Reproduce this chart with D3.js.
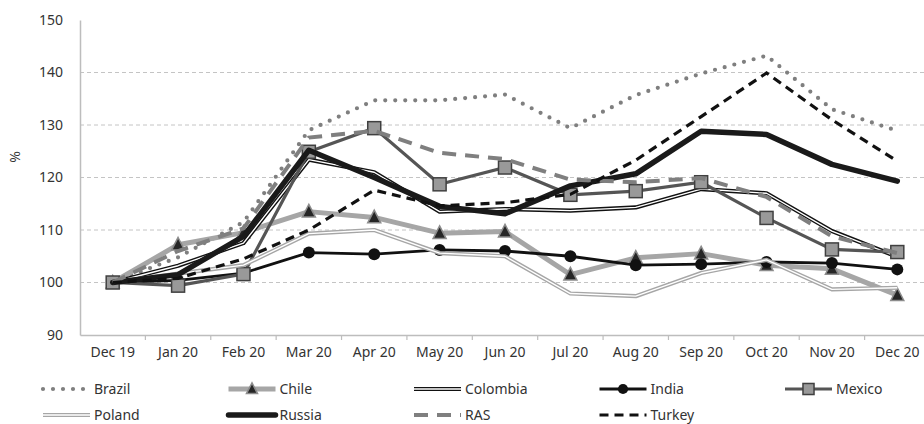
<!DOCTYPE html>
<html><head><meta charset="utf-8">
<script src="https://cdn.jsdelivr.net/npm/d3@7"></script>
<style>
html,body{margin:0;padding:0;background:#fff;}
text{font-family:"Noto Sans","Open Sans",sans-serif;fill:#333;}
</style></head>
<body><svg id="c" width="924" height="424"></svg>
<script>
const categories = ["Dec 19","Jan 20","Feb 20","Mar 20","Apr 20","May 20","Jun 20","Jul 20","Aug 20","Sep 20","Oct 20","Nov 20","Dec 20"];
const yTicks = [90,100,110,120,130,140,150];
const brazil   = [100, 104.8, 111.5, 129.0, 134.7, 134.7, 135.8, 129.4, 135.7, 139.8, 143.2, 133.0, 128.9];
const chile    = [100, 107.2, 109.5, 113.5, 112.4, 109.4, 109.7, 101.5, 104.7, 105.5, 103.3, 102.6, 97.6];
const colombia = [100, 103.2, 107.5, 123.4, 121.0, 113.5, 114.0, 113.7, 114.3, 117.8, 117.0, 109.8, 104.9];
const india    = [100, 100.4, 101.8, 105.7, 105.4, 106.2, 106.0, 105.0, 103.3, 103.5, 103.9, 103.7, 102.5];
const mexico   = [100, 99.4, 101.6, 124.9, 129.4, 118.7, 121.9, 116.7, 117.4, 119.1, 112.3, 106.3, 105.8];
const poland   = [100, 101.7, 103.3, 109.3, 110.0, 105.6, 105.0, 97.9, 97.4, 101.8, 104.3, 98.7, 99.0];
const russia   = [100, 101.5, 108.8, 125.2, 120.0, 114.5, 113.1, 118.4, 120.7, 128.8, 128.2, 122.5, 119.3];
const ras      = [100, 106.0, 110.3, 127.6, 128.9, 124.7, 123.5, 119.6, 119.1, 119.9, 116.3, 108.8, 105.6];
const turkey   = [100, 100.8, 104.5, 110.0, 117.6, 114.6, 115.2, 116.8, 123.3, 131.6, 139.9, 131.0, 123.1];

const series = [
  {name:"Brazil", values:brazil, type:"dots"},
  {name:"Chile", values:chile, type:"chile"},
  {name:"Colombia", values:colombia, type:"double", outer:"#111", inner:"#fff"},
  {name:"India", values:india, type:"india"},
  {name:"Mexico", values:mexico, type:"mexico"},
  {name:"Poland", values:poland, type:"double", outer:"#a6a6a6", inner:"#fff"},
  {name:"Russia", values:russia, type:"russia"},
  {name:"RAS", values:ras, type:"ras"},
  {name:"Turkey", values:turkey, type:"turkey"}
];

const svg = d3.select("#c");
const mLeft = 80, mRight = 930, mTop = 20, mBottom = 335;
const x = d3.scaleBand().domain(categories).range([mLeft, mRight]).padding(0);
const cx = c => x(c) + x.bandwidth()/2;
const y = d3.scaleLinear().domain([90,150]).range([mBottom, mTop]);

// gridlines
svg.append("g").selectAll("line").data(yTicks.filter(t => t>90 && t<150)).join("line")
  .attr("x1", mLeft).attr("x2", 924).attr("y1", d=>y(d)).attr("y2", d=>y(d))
  .attr("stroke","#c4c4c4").attr("stroke-width",1).attr("stroke-dasharray","4 3");

// y axis
const ya = svg.append("g").attr("transform",`translate(${mLeft},0)`)
  .call(d3.axisLeft(y).tickValues(yTicks).tickSize(0).tickPadding(17));
ya.select(".domain").attr("stroke","#bdbdbd").attr("stroke-width",1.5);
ya.selectAll("text").style("font-size","14px").attr("fill","#333");

// x axis
const xa = svg.append("g").attr("transform",`translate(0,${mBottom})`)
  .call(d3.axisBottom(x).tickSize(0).tickPadding(12));
xa.select(".domain").attr("stroke","#bdbdbd").attr("stroke-width",1.5);
xa.selectAll("text").style("font-size","14px").attr("fill","#333");
svg.append("g").selectAll("line").data(categories.slice(1)).join("line")
  .attr("x1", d=>x(d)).attr("x2", d=>x(d)).attr("y1", mBottom).attr("y2", mBottom+5)
  .attr("stroke","#bdbdbd").attr("stroke-width",1.2);

// y label
svg.append("text").attr("transform","translate(20,157) rotate(-90)")
  .attr("text-anchor","middle").style("font-size","14px").text("%");

const line = d3.line().x((d,i)=>cx(categories[i])).y(d=>y(d));

function drawLine(g, s, path){
  const t = s.type;
  if(t==="dots"){
    g.append("path").attr("d",path).attr("fill","none").attr("stroke","#7f7f7f")
     .attr("stroke-width",4.2).attr("stroke-linecap","round").attr("stroke-dasharray","0 10");
  } else if(t==="chile"){
    g.append("path").attr("d",path).attr("fill","none").attr("stroke","#a6a6a6").attr("stroke-width",5).attr("stroke-linejoin","round");
  } else if(t==="double"){
    g.append("path").attr("d",path).attr("fill","none").attr("stroke",s.outer).attr("stroke-width",4.2).attr("stroke-linejoin","round");
    g.append("path").attr("d",path).attr("fill","none").attr("stroke",s.inner).attr("stroke-width",1.4).attr("stroke-linejoin","round");
  } else if(t==="india"){
    g.append("path").attr("d",path).attr("fill","none").attr("stroke","#111").attr("stroke-width",2.8);
  } else if(t==="mexico"){
    g.append("path").attr("d",path).attr("fill","none").attr("stroke","#555").attr("stroke-width",3.2);
  } else if(t==="russia"){
    g.append("path").attr("d",path).attr("fill","none").attr("stroke","#1a1a1a").attr("stroke-width",5.5).attr("stroke-linejoin","round").attr("stroke-linecap","round");
  } else if(t==="ras"){
    g.append("path").attr("d",path).attr("fill","none").attr("stroke","#7f7f7f").attr("stroke-width",4).attr("stroke-dasharray","14 9");
  } else if(t==="turkey"){
    g.append("path").attr("d",path).attr("fill","none").attr("stroke","#111").attr("stroke-width",3.2).attr("stroke-dasharray","9 6");
  }
}
function drawMarker(g, t, px, py, scale){
  const k = scale||1;
  if(t==="chile"){
    const h = 12*k, w = 13*k;
    g.append("path").attr("d",`M${px},${py-h*0.6}L${px+w/2},${py+h*0.45}L${px-w/2},${py+h*0.45}Z`)
     .attr("fill","#262626").attr("stroke","#8c8c8c").attr("stroke-width",1.5);
  } else if(t==="india"){
    g.append("circle").attr("cx",px).attr("cy",py).attr("r",6*k).attr("fill","#111");
  } else if(t==="mexico"){
    const s = 13*k;
    g.append("rect").attr("x",px-s/2).attr("y",py-s/2).attr("width",s).attr("height",s)
     .attr("fill","#999").attr("stroke","#404040").attr("stroke-width",1.5);
  }
}

const plot = svg.append("g");
series.forEach(s=>{
  const g = plot.append("g");
  drawLine(g, s, line(s.values));
  if(["chile","india","mexico"].includes(s.type)){
    s.values.forEach((v,i)=>drawMarker(g, s.type, cx(categories[i]), y(v)));
  }
});

// legend
const legend = svg.append("g");
series.forEach((s,i)=>{
  const col = i%5, row = Math.floor(i/5);
  const x0 = 43 + col*185.5, yy = row===0 ? 389 : 415;
  const g = legend.append("g");
  const p = `M${x0},${yy}L${x0+47},${yy}`;
  drawLine(g, s, p);
  if(["chile","india","mexico"].includes(s.type)) drawMarker(g, s.type, x0+23.5, yy, 0.85);
  g.append("text").attr("x", x0+51).attr("y", yy+5).style("font-size","14px").text(s.name);
});
</script></body></html>
